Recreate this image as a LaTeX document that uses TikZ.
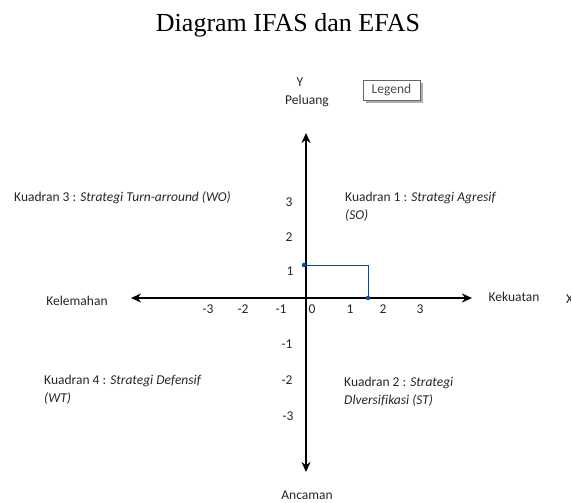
\documentclass[tikz,border=0pt]{standalone}
\usepackage{fontspec}
\setmainfont{Carlito}[Ligatures=NoCommon]
\newfontfamily\titlefont{Liberation Serif}
\usetikzlibrary{arrows.meta,shadows}
\begin{document}
\begin{tikzpicture}[x=1pt,y=-1pt,
  lbl/.style={font=\fontsize{13.5}{16}\selectfont, inner sep=0pt, text=black!85},
  qd/.style={lbl, anchor=west, align=left},
  axis/.style={line width=1.7pt, -{Stealth[length=10pt,width=9pt]}},
  posline/.style={draw=blue!50!black!70!cyan, line width=0.8pt},
  posdot/.style={circle, fill=blue!50!black!70!cyan, inner sep=0pt, minimum size=4.5pt}]
\useasboundingbox (0,0) rectangle (571,503);
\node[font=\titlefont\fontsize{26}{30}\selectfont] (title) at (288,25) {Diagram IFAS dan EFAS};
% axes
\coordinate (o) at (306,298);
\coordinate (top) at (306,133);
\coordinate (bot) at (306,472);
\coordinate (left) at (131,298);
\coordinate (right) at (472,298);
\draw[axis] (o) -- (top);
\draw[axis] (o) -- (bot);
\draw[axis] (o) -- (left);
\draw[axis] (o) -- (right);
% axis labels
\node[lbl] (ylab) at (300,82) {Y};
\node[lbl] (peluang) at (307,101) {Peluang};
\node[lbl] (kek) at (514,297) {Kekuatan};
\node[lbl, anchor=west] (xlab) at (566,299) {X};
\node[lbl] (kel) at (77,301) {Kelemahan};
\node[lbl] (anc) at (307,495) {Ancaman};
% legend
\node[draw=black!60, line width=0.6pt, fill=white, drop shadow={shadow xshift=3pt, shadow yshift=-3pt, fill=black!45, opacity=0.7}, lbl, text=black!70, minimum width=57pt, minimum height=20pt, inner sep=2pt] (legend) at (391.5,90) {Legend};
% ticks x
\node[lbl] (xm3) at (208,309) {-3};
\node[lbl] (xm2) at (243,309) {-2};
\node[lbl] (xm1) at (281,309) {-1};
\node[lbl] (x0) at (312,309) {0};
\node[lbl] (x1) at (350,309) {1};
\node[lbl] (x2) at (383,309) {2};
\node[lbl] (x3) at (420,309) {3};
% ticks y
\node[lbl] (y3) at (289,202) {3};
\node[lbl] (y2) at (289,237) {2};
\node[lbl] (y1) at (290,271) {1};
\node[lbl] (ym1) at (287,344) {-1};
\node[lbl] (ym2) at (287,380) {-2};
\node[lbl] (ym3) at (288,416) {-3};
% position marker
\node[posdot] (pY) at (304,265) {};
\node[posdot] (pX) at (368,298) {};
\draw[posline] (pY.center) -| (pX.center);
% quadrant texts
\node[qd] (q3) at (14,198) {Kuadran 3 : \textit{Strategi Turn-arround (WO)}};
\node[qd] (q1) at (345,207) {Kuadran 1 : \textit{Strategi Agresif}\\[2pt]\textit{(SO)}};
\node[qd] (q4) at (44,390) {Kuadran 4 : \textit{Strategi Defensif}\\[2pt]\textit{(WT)}};
\node[qd] (q2) at (344,392) {Kuadran 2 : \textit{Strategi}\\[2pt]\textit{Dlversifikasi (ST)}};
\end{tikzpicture}
\end{document}
